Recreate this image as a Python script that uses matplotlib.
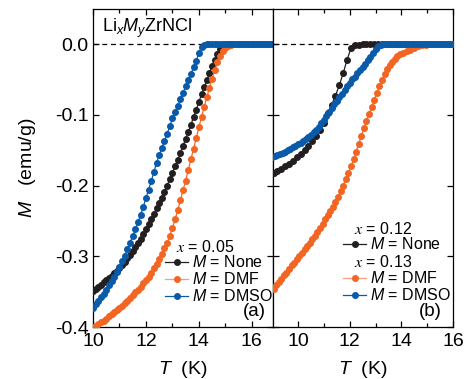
import matplotlib
matplotlib.use("Agg")
import matplotlib.pyplot as plt
from matplotlib.lines import Line2D
from matplotlib.ticker import MultipleLocator

plt.rcParams['font.family'] = ['Liberation Sans', 'DejaVu Sans']
plt.rcParams['mathtext.fontset'] = 'custom'
plt.rcParams['mathtext.rm'] = 'Liberation Sans'
plt.rcParams['mathtext.it'] = 'Liberation Sans:italic'
plt.rcParams['axes.unicode_minus'] = False

# ---------------- data: panel (a) x = 0.05 ----------------
T_a_none = [10.0, 10.1, 10.2, 10.3, 10.4, 10.5, 10.6, 10.7, 10.8, 10.9, 11.0, 11.1, 11.2, 11.3, 11.4,
            11.5, 11.6, 11.7, 11.8, 11.9, 12.0, 12.1, 12.2, 12.3, 12.4, 12.5, 12.6, 12.7, 12.8, 12.9,
            13.0, 13.1, 13.2, 13.3, 13.4, 13.5, 13.6, 13.7, 13.8, 13.9, 14.0, 14.1, 14.2, 14.3, 14.4,
            14.5, 14.6, 14.7, 14.8, 14.9, 15.0, 15.1, 15.2, 15.3, 15.4, 15.5, 15.6, 15.7, 15.8, 15.9,
            16.0, 16.1, 16.2, 16.3, 16.4, 16.5, 16.6, 16.7, 16.8]
M_a_none = [-0.349, -0.346, -0.343, -0.340, -0.337, -0.334, -0.331, -0.328, -0.324, -0.321, -0.317,
            -0.313, -0.308, -0.303, -0.298, -0.293, -0.287, -0.281, -0.275, -0.269, -0.262, -0.255,
            -0.248, -0.240, -0.232, -0.225, -0.217, -0.209, -0.200, -0.191, -0.182, -0.173, -0.164,
            -0.154, -0.144, -0.134, -0.124, -0.114, -0.103, -0.093, -0.082, -0.071, -0.061, -0.051,
            -0.041, -0.031, -0.022, -0.014, -0.007, -0.003, -0.001, 0.0, 0.0, 0.0, 0.0, 0.0, 0.0,
            0.0, 0.0, 0.0, 0.0, 0.0, 0.0, 0.0, 0.0, 0.0, 0.0, 0.0, 0.0]

T_a_dmf = [10.0, 10.1, 10.2, 10.3, 10.4, 10.5, 10.6, 10.7, 10.8, 10.9, 11.0, 11.1, 11.2, 11.3, 11.4,
           11.5, 11.6, 11.7, 11.8, 11.9, 12.0, 12.1, 12.2, 12.3, 12.4, 12.5, 12.6, 12.7, 12.8, 12.9,
           13.0, 13.1, 13.2, 13.3, 13.4, 13.5, 13.6, 13.7, 13.8, 13.9, 14.0, 14.1, 14.2, 14.3, 14.4,
           14.5, 14.6, 14.7, 14.8, 14.9, 15.0, 15.1, 15.2, 15.3, 15.4, 15.5, 15.6, 15.7, 15.8, 15.9,
           16.0, 16.1, 16.2, 16.3, 16.4, 16.5, 16.6, 16.7, 16.8]
M_a_dmf = [-0.400, -0.398, -0.396, -0.393, -0.391, -0.388, -0.385, -0.382, -0.379, -0.376, -0.373,
           -0.370, -0.366, -0.363, -0.359, -0.355, -0.351, -0.347, -0.343, -0.338, -0.334, -0.329,
           -0.323, -0.317, -0.311, -0.304, -0.297, -0.289, -0.281, -0.271, -0.260, -0.248, -0.235,
           -0.221, -0.207, -0.193, -0.178, -0.163, -0.148, -0.133, -0.118, -0.103, -0.089, -0.075,
           -0.062, -0.049, -0.037, -0.026, -0.017, -0.010, -0.006, -0.003, -0.001, 0.0, 0.0, 0.0,
           0.0, 0.0, 0.0, 0.0, 0.0, 0.0, 0.0, 0.0, 0.0, 0.0, 0.0, 0.0, 0.0]

T_a_dmso = [10.0, 10.1, 10.2, 10.3, 10.4, 10.5, 10.6, 10.7, 10.8, 10.9, 11.0, 11.1, 11.2, 11.3, 11.4,
            11.5, 11.6, 11.7, 11.8, 11.9, 12.0, 12.1, 12.2, 12.3, 12.4, 12.5, 12.6, 12.7, 12.8, 12.9,
            13.0, 13.1, 13.2, 13.3, 13.4, 13.5, 13.6, 13.7, 13.8, 13.9, 14.0, 14.1, 14.2, 14.3, 14.4,
            14.5, 14.6, 14.7, 14.8, 14.9, 15.0, 15.1, 15.2, 15.3, 15.4, 15.5, 15.6, 15.7, 15.8, 15.9,
            16.0, 16.1, 16.2, 16.3, 16.4, 16.5, 16.6, 16.7, 16.8]
M_a_dmso = [-0.373, -0.368, -0.363, -0.358, -0.353, -0.347, -0.341, -0.335, -0.329, -0.322, -0.315,
            -0.307, -0.299, -0.290, -0.281, -0.271, -0.262, -0.252, -0.241, -0.230, -0.218, -0.206,
            -0.194, -0.181, -0.168, -0.157, -0.147, -0.137, -0.127, -0.116, -0.105, -0.096, -0.087,
            -0.078, -0.069, -0.060, -0.051, -0.042, -0.033, -0.024, -0.012, -0.004, -0.001, 0.0,
            0.0, 0.0, 0.0, 0.0, 0.0, 0.0, 0.0, 0.0, 0.0, 0.0, 0.0, 0.0, 0.0, 0.0, 0.0, 0.0, 0.0,
            0.0, 0.0, 0.0, 0.0, 0.0, 0.0, 0.0, 0.0]

# ---------------- data: panel (b) x = 0.12 / 0.13 ----------------
T_b_none = [9.05, 9.2, 9.35, 9.5, 9.65, 9.8, 9.95, 10.1, 10.25, 10.4, 10.55, 10.7, 10.85, 11.0,
            11.15, 11.3, 11.45, 11.6, 11.75, 11.9, 12.05, 12.2, 12.35, 12.5, 12.65, 12.8, 12.95,
            13.1, 13.25, 13.4, 13.55, 13.7, 13.85, 14.0, 14.15, 14.3, 14.45, 14.6, 14.75, 14.9,
            15.05, 15.2, 15.35, 15.5, 15.65, 15.8, 15.95]
M_b_none = [-0.182, -0.179, -0.176, -0.172, -0.169, -0.165, -0.160, -0.155, -0.150, -0.144, -0.137,
            -0.130, -0.122, -0.111, -0.098, -0.086, -0.073, -0.058, -0.041, -0.022, -0.006, -0.002,
            -0.001, 0.0, 0.0, 0.0, 0.0, 0.0, 0.0, 0.0, 0.0, 0.0, 0.0, 0.0, 0.0, 0.0, 0.0, 0.0, 0.0,
            0.0, 0.0, 0.0, 0.0, 0.0, 0.0, 0.0, 0.0]

T_b_dmf = [9.05, 9.15, 9.25, 9.35, 9.45, 9.55, 9.65, 9.75, 9.85, 9.95, 10.05, 10.15, 10.25, 10.35,
           10.45, 10.55, 10.65, 10.75, 10.85, 10.95, 11.05, 11.15, 11.25, 11.35, 11.45, 11.55, 11.65,
           11.75, 11.85, 11.95, 12.05, 12.15, 12.25, 12.35, 12.45, 12.55, 12.65, 12.75, 12.85, 12.95,
           13.05, 13.15, 13.25, 13.35, 13.45, 13.55, 13.65, 13.75, 13.85, 13.95, 14.05, 14.2, 14.35,
           14.5, 14.65, 14.8, 14.95, 15.1, 15.2, 15.3, 15.4, 15.5, 15.6, 15.7, 15.8, 15.9, 16.0]
M_b_dmf = [-0.346, -0.341, -0.337, -0.332, -0.327, -0.323, -0.318, -0.313, -0.309, -0.304, -0.299,
           -0.295, -0.290, -0.285, -0.281, -0.276, -0.271, -0.266, -0.260, -0.254, -0.248, -0.242,
           -0.236, -0.230, -0.223, -0.216, -0.208, -0.200, -0.191, -0.182, -0.173, -0.163, -0.152,
           -0.141, -0.130, -0.119, -0.109, -0.099, -0.089, -0.079, -0.069, -0.060, -0.051, -0.043,
           -0.036, -0.030, -0.025, -0.021, -0.017, -0.014, -0.012, -0.010, -0.008, -0.005, -0.003,
           -0.002, -0.001, 0.0, 0.0, 0.0, 0.0, 0.0, 0.0, 0.0, 0.0, 0.0, 0.0]

T_b_dmso = [9.0, 9.1, 9.2, 9.3, 9.4, 9.5, 9.6, 9.7, 9.8, 9.9, 10.0, 10.1, 10.2, 10.3, 10.4, 10.5,
            10.6, 10.7, 10.8, 10.9, 11.0, 11.1, 11.2, 11.3, 11.4, 11.5, 11.6, 11.7, 11.8, 11.9, 12.0,
            12.1, 12.2, 12.3, 12.4, 12.5, 12.6, 12.7, 12.8, 12.9, 13.0, 13.1, 13.2, 13.3, 13.4, 13.5,
            13.6, 13.7, 13.8, 13.9, 14.0, 14.1, 14.2, 14.3, 14.4, 14.5, 14.6, 14.7, 14.8, 14.9, 15.0,
            15.1, 15.2, 15.3, 15.4, 15.5, 15.6, 15.7, 15.8, 15.9, 16.0]
M_b_dmso = [-0.159, -0.158, -0.157, -0.155, -0.154, -0.152, -0.150, -0.148, -0.146, -0.144, -0.142,
            -0.140, -0.137, -0.134, -0.131, -0.128, -0.125, -0.121, -0.117, -0.112, -0.107, -0.102,
            -0.096, -0.091, -0.085, -0.080, -0.075, -0.070, -0.065, -0.060, -0.055, -0.050, -0.046,
            -0.041, -0.037, -0.032, -0.028, -0.023, -0.018, -0.013, -0.007, -0.003, -0.001, 0.0,
            0.0, 0.0, 0.0, 0.0, 0.0, 0.0, 0.0, 0.0, 0.0, 0.0, 0.0, 0.0, 0.0, 0.0, 0.0, 0.0, 0.0,
            0.0, 0.0, 0.0, 0.0, 0.0, 0.0, 0.0, 0.0, 0.0, 0.0]

x_ticks = [10, 12, 14, 16]
y_ticks = [-0.4, -0.3, -0.2, -0.1, 0.0]
y_tick_labels = ['-0.4', '-0.3', '-0.2', '-0.1', '0.0']

C_BLACK = '#231f20'
C_ORANGE = '#f26522'
C_ORANGE_LEG = '#f5a07c'
C_BLUE = '#0a5aaa'

W, H = 471, 379
fig = plt.figure(figsize=(W / 100, H / 100), dpi=100)
axL = fig.add_axes([93 / W, 1 - 327 / H, 180 / W, 318 / H])
axR = fig.add_axes([273 / W, 1 - 327 / H, 180 / W, 318 / H])

ms = 4.0
lw = 0.9
TICK_FS = 14


def series(ax, T, M, c):
    ax.plot(T, M, '-o', color=c, ms=ms, lw=lw, mec=c, mfc=c, zorder=3)


series(axL, T_a_none, M_a_none, C_BLACK)
series(axL, T_a_dmf, M_a_dmf, C_ORANGE)
series(axL, T_a_dmso, M_a_dmso, C_BLUE)

series(axR, T_b_none, M_b_none, C_BLACK)
series(axR, T_b_dmf, M_b_dmf, C_ORANGE)
series(axR, T_b_dmso, M_b_dmso, C_BLUE)

for ax in (axL, axR):
    ax.axhline(0.0, color='black', lw=0.9, ls=(0, (4, 3)), zorder=1)
    ax.set_ylim(-0.4, 0.0495)
    ax.set_xticks(x_ticks)
    ax.xaxis.set_minor_locator(MultipleLocator(1))
    ax.set_yticks(y_ticks)
    ax.tick_params(which='both', direction='in', top=True, right=True, labelsize=TICK_FS,
                   width=0.9)
    ax.tick_params(axis='y', pad=3)
    ax.tick_params(axis='x', pad=4)
    ax.tick_params(which='major', length=4.5)
    ax.tick_params(which='minor', length=3)
    for s in ax.spines.values():
        s.set_linewidth(0.9)
    ax.set_xlabel(r'$\mathit{T}$  (K)', fontsize=TICK_FS, labelpad=7)

axL.set_xlim(10, 16.8)
axR.set_xlim(9.03, 16.0)
axL.set_yticklabels(y_tick_labels)
axR.tick_params(labelleft=False)
axL.set_ylabel(r'$\mathit{M}$   (emu/g)', fontsize=TICK_FS, labelpad=12)

axL.text(0.05, 0.94, r'Li$_{\mathit{x}}$$\mathit{M}_{\mathit{y}}$ZrNCl', transform=axL.transAxes,
         fontsize=13, va='center', ha='left')
axL.text(0.895, 0.05, '(a)', transform=axL.transAxes, fontsize=13.5, ha='center', va='center')
axR.text(0.872, 0.05, '(b)', transform=axR.transAxes, fontsize=13.5, ha='center', va='center')

h_none = Line2D([], [], color=C_BLACK, marker='o', ms=ms, lw=lw)
h_dmf = Line2D([], [], color=C_ORANGE_LEG, marker='o', ms=ms, lw=lw, mfc=C_ORANGE, mec=C_ORANGE)
h_dmso = Line2D([], [], color=C_BLUE, marker='o', ms=ms, lw=lw)

lab_none = r'$\mathit{M}$ = None'
lab_dmf = r'$\mathit{M}$ = DMF'
lab_dmso = r'$\mathit{M}$ = DMSO'

leg_kw = dict(frameon=False, fontsize=11.5, handlelength=1.45, handletextpad=0.25,
              labelspacing=0.05, borderpad=0, borderaxespad=0, loc='upper left')

axL.text(0.461, 0.252, r'$x$ = 0.05', transform=axL.transAxes, fontsize=11.5, va='center',
         ha='left', math_fontfamily='stix')
axL.legend([h_none, h_dmf, h_dmso], [lab_none, lab_dmf, lab_dmso],
           bbox_to_anchor=(0.40, 0.228), **leg_kw)

axR.text(0.45, 0.308, r'$x$ = 0.12', transform=axR.transAxes, fontsize=11.5, va='center',
         ha='left', math_fontfamily='stix')
axR.text(0.45, 0.204, r'$x$ = 0.13', transform=axR.transAxes, fontsize=11.5, va='center',
         ha='left', math_fontfamily='stix')
legR1 = axR.legend([h_none], [lab_none], bbox_to_anchor=(0.39, 0.285), **leg_kw)
axR.add_artist(legR1)
axR.legend([h_dmf, h_dmso], [lab_dmf, lab_dmso], bbox_to_anchor=(0.39, 0.178), **leg_kw)

fig.savefig('out.png', dpi=100)
